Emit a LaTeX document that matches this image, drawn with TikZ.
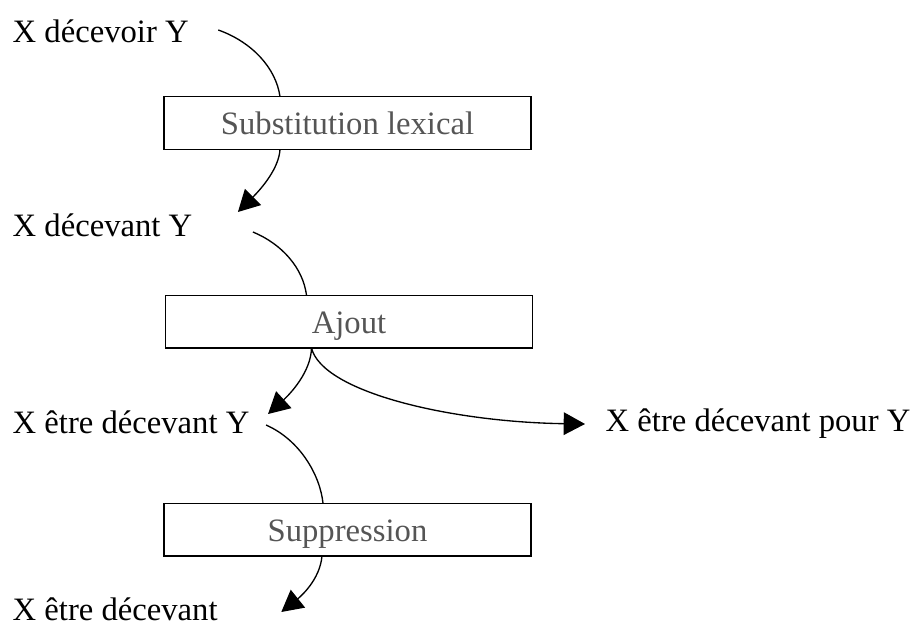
\documentclass[tikz,border=0pt]{standalone}
\usepackage{fontspec}
\setmainfont{Liberation Serif}
\usetikzlibrary{arrows.meta}
\tikzset{every picture/.style={line width=1pt}}
\tikzset{
  lbl/.style={anchor=base west, inner sep=0pt, font=\fontsize{24.5pt}{29pt}\selectfont},
  opbox/.style={draw, rectangle, outer sep=0pt, inner sep=0pt, minimum width=275.25pt, minimum height=39.5pt,
    text height=20pt, text depth=2pt,
    text={rgb,255:red,85;green,85;blue,85}, font=\fontsize{24.5pt}{29pt}\selectfont},
  tip/.style={-{Triangle[length=16pt,width=17pt]}}
}

\begin{document}
\begin{tikzpicture}[x=0.75pt,y=0.75pt,yscale=-1,xscale=1]
\useasboundingbox (0,0) rectangle (916,627);

% Text Node
\node [lbl] (decevoir) at (12,43) {X décevoir Y};
% Text Node
\node [lbl] (decevant) at (12,236) {X décevant Y};
% Text Node
\node [lbl] (etreY) at (12,433) {X être décevant Y};
% Text Node
\node [lbl] (etre) at (12,620) {X être décevant};
% Text Node
\node [lbl] (pourY) at (605,431) {X être décevant pour Y};

%Shape: Rectangle
\node [opbox] (subst) at (347.5,123) {Substitution lexical};
%Shape: Rectangle
\node [opbox] (ajout) at (349,321.5) {Ajout};
%Shape: Rectangle
\node [opbox] (suppr) at (347.5,529.5) {Suppression};

%Curve Lines
\draw ([shift={(29,-13)}]decevoir.base east) .. controls (252,42) and (276,68) .. ([xshift=87pt]subst.north west);
\draw [tip] ([xshift=87pt]subst.south west) .. controls (279,168) and (262,188) .. ([shift={(45,-24)}]decevant.base east);
%Curve Lines
\draw ([shift={(60,-4)}]decevant.base east) .. controls (282,244) and (303,268) .. ([xshift=105.75pt]ajout.north west);
\draw [tip] ([xshift=109.5pt]ajout.south west) .. controls (311,372) and (290,394) .. ([shift={(18,-19)}]etreY.base east);
\draw [tip] ([xshift=109.5pt]ajout.south west) .. controls (322,392) and (450,422) .. ([shift={(-20,-7)}]pourY.base west);
%Curve Lines
\draw ([shift={(16,-8)}]etreY.base east) .. controls (300,440) and (320,475) .. ([xshift=119.25pt]suppr.north west);
\draw [tip] ([xshift=118.5pt]suppr.south west) .. controls (320,580) and (300,597) .. ([shift={(63,-8)}]etre.base east);
\end{tikzpicture}
\end{document}
